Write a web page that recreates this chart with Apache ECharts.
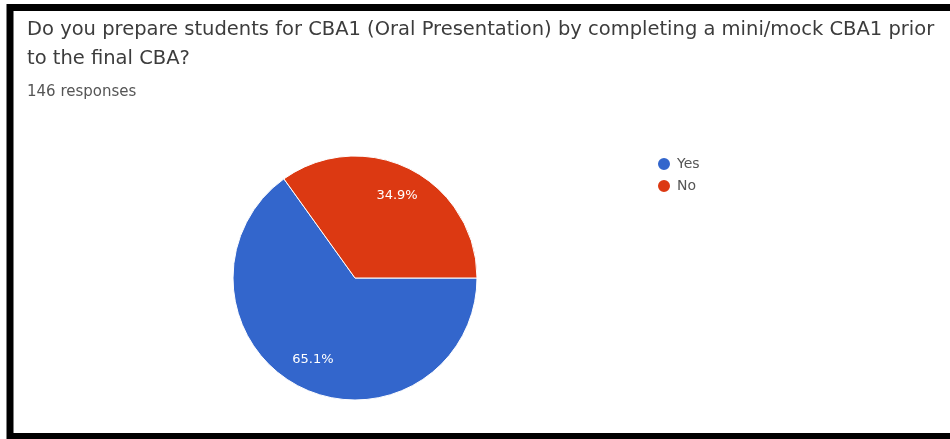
<!DOCTYPE html>
<html>
<head>
<meta charset="utf-8">
<script src="https://cdn.jsdelivr.net/npm/echarts@6/dist/echarts.min.js"></script>
<style>
html,body{margin:0;padding:0;background:#fff;}
#main{width:950px;height:439px;}
</style>
</head>
<body>
<div id="main"></div>
<script>
const titleLines = ['Do you prepare students for CBA1 (Oral Presentation) by completing a mini/mock CBA1 prior', 'to the final CBA?'];
const responsesText = '146 responses';
const categories = ['Yes', 'No'];
const values = [65.1, 34.9];
const colors = ['#3366cc', '#dc3912'];

const chart = echarts.init(document.getElementById('main'));
const pieData = categories.map((c, i) => ({ name: c, value: values[i], itemStyle: { color: colors[i] } }));
const center = [355, 278];
const R = 122;

chart.setOption({
  animation: false,
  backgroundColor: '#ffffff',
  graphic: [{
    type: 'rect',
    shape: { x: 10, y: 7.5, width: 980, height: 429 },
    style: { fill: 'none', stroke: '#000', lineWidth: 7 },
    z: 100
  }],
  title: [{
    text: titleLines.join('\n'),
    left: 27, top: 15, padding: 0,
    textStyle: { fontFamily: 'DejaVu Sans', fontSize: 19.5, fontWeight: 'normal', color: '#3c3c3c', lineHeight: 29 }
  }, {
    text: responsesText,
    left: 27, top: 85, padding: 0,
    textStyle: { fontFamily: 'DejaVu Sans', fontSize: 15, fontWeight: 'normal', color: '#555' }
  }],
  legend: {
    orient: 'vertical',
    left: 651, top: 151,
    icon: 'circle',
    itemWidth: 14, itemHeight: 14,
    itemGap: 6,
    data: categories,
    textStyle: { fontFamily: 'DejaVu Sans', fontSize: 14, color: '#555', padding: [0, 0, 0, 1] }
  },
  series: [{
    type: 'pie',
    center: center,
    radius: [0, R],
    startAngle: 0,
    clockwise: true,
    data: pieData,
    itemStyle: { borderColor: '#fff', borderWidth: 1 },
    label: { show: false },
    labelLine: { show: false },
    emphasis: { disabled: true }
  }, {
    type: 'pie',
    center: center,
    radius: [0, R * 1.46],
    startAngle: 0,
    clockwise: true,
    silent: true,
    legendHoverLink: false,
    data: pieData.map(d => ({ name: d.name, value: d.value, itemStyle: { color: 'rgba(0,0,0,0)' } })),
    label: {
      show: true, position: 'inside',
      formatter: p => p.value.toFixed(1) + '%',
      color: '#fff', fontFamily: 'DejaVu Sans', fontSize: 13
    },
    labelLine: { show: false },
    emphasis: { disabled: true },
    z: 3
  }]
});
</script>
</body>
</html>
